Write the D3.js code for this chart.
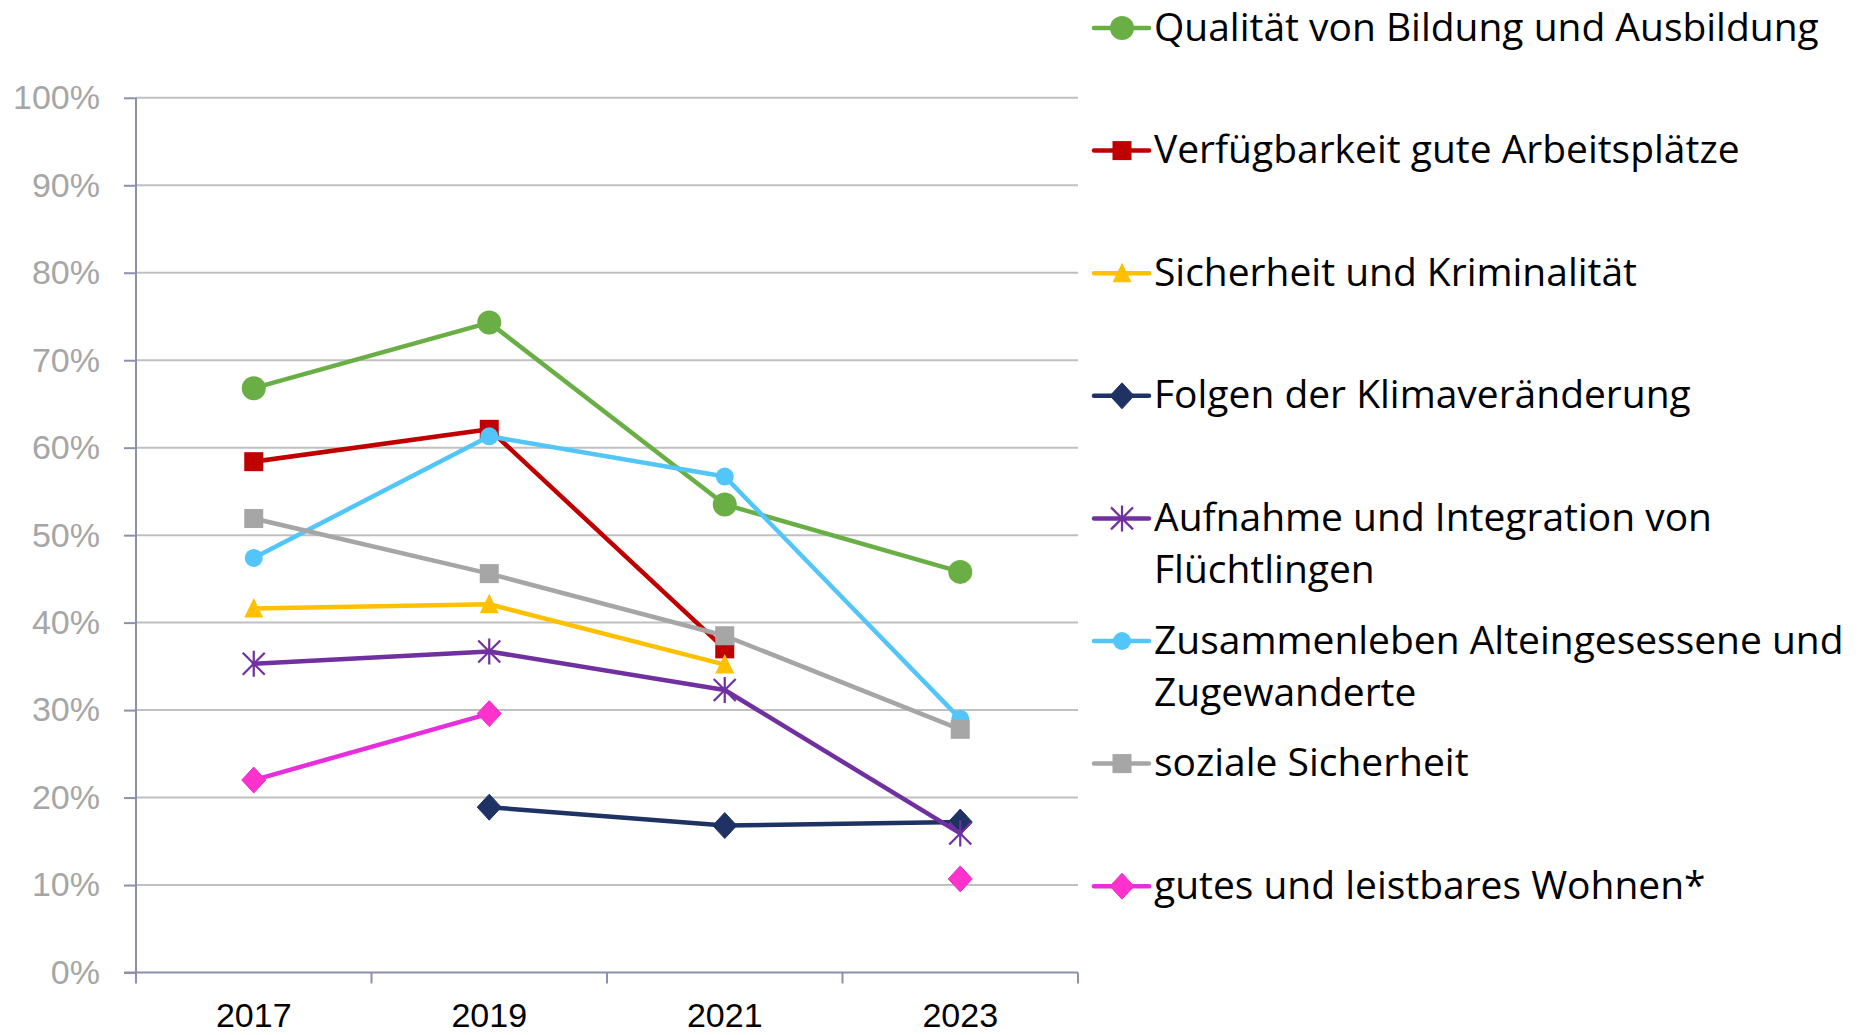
<!DOCTYPE html>
<html>
<head>
<meta charset="utf-8">
<script src="https://cdn.jsdelivr.net/npm/d3@7"></script>
<style>
  html, body { margin: 0; padding: 0; background: #ffffff; }
  svg { display: block; }
</style>
</head>
<body>
<svg id="chart" width="1862" height="1035"></svg>
<script>
// ---------- DATA ----------
const years = ["2017", "2019", "2021", "2023"];
const yTicks = [0, 0.1, 0.2, 0.3, 0.4, 0.5, 0.6, 0.7, 0.8, 0.9, 1.0];

const seriesNames = [
  "Qualität von Bildung und Ausbildung",
  "Verfügbarkeit gute Arbeitsplätze",
  "Sicherheit und Kriminalität",
  "Folgen der Klimaveränderung",
  "Aufnahme und Integration von|Flüchtlingen",
  "Zusammenleben Alteingesessene und|Zugewanderte",
  "soziale Sicherheit",
  "gutes und leistbares Wohnen*"
];

const bildung       = [0.668, 0.743, 0.535, 0.458];
const arbeit        = [0.584, 0.621, 0.370, null];
const sicherheit    = [0.416, 0.421, 0.352, null];
const klima         = [null, 0.189, 0.168, 0.172];
const fluechtlinge  = [0.353, 0.367, 0.323, 0.159];
const zusammenleben = [0.474, 0.613, 0.567, 0.290];
const sozial        = [0.519, 0.456, 0.385, 0.278];
const wohnen        = [0.220, 0.296, null, 0.107];

const seriesValues = [bildung, arbeit, sicherheit, klima, fluechtlinge, zusammenleben, sozial, wohnen];
const seriesColors = ["#6aaf45", "#c00000", "#ffc000", "#1f3264", "#7030a0", "#52c5f9", "#a6a6a6", "#e62edc"];
const markerFills  = ["#6aaf45", "#c00000", "#ffc000", "#1f3264", "#7030a0", "#52c5f9", "#a6a6a6", "#ff33cc"];
const markerTypes  = ["circle", "square", "triangle", "diamond", "star", "smallcircle", "square", "diamond"];

(function () {
// ---------- LAYOUT ----------
const svg = d3.select("#chart");
const plotLeft = 136, plotRight = 1078, plotTop = 97.8, plotBottom = 972.5;

const x = d3.scaleBand().domain(years).range([plotLeft, plotRight]).padding(0);
const y = d3.scaleLinear().domain([0, 1]).range([plotBottom, plotTop]);
const cx = d => x(d) + x.bandwidth() / 2;

const axisColor = "#8e8fab";
const gridColor = "#c0c0c0";

// gridlines
svg.append("g").selectAll("line")
  .data(yTicks.filter(t => t > 0))
  .join("line")
  .attr("x1", plotLeft).attr("x2", plotRight)
  .attr("y1", d => y(d)).attr("y2", d => y(d))
  .attr("stroke", gridColor).attr("stroke-width", 2);

// y axis
const yAxis = d3.axisLeft(y).tickValues(yTicks).tickSize(12).tickSizeOuter(0)
  .tickFormat(d3.format(".0%")).tickPadding(24);
const gy = svg.append("g").attr("transform", `translate(${plotLeft},0)`).call(yAxis);
gy.select(".domain").remove();
gy.selectAll(".tick line").attr("stroke", axisColor).attr("stroke-width", 2);
gy.selectAll(".tick text")
  .attr("fill", "#a6a6a6")
  .style("font-family", "'Liberation Sans', Arial, sans-serif")
  .style("font-size", "34px");
svg.append("line")
  .attr("x1", plotLeft).attr("x2", plotLeft).attr("y1", y(1)).attr("y2", plotBottom + 11)
  .attr("stroke", axisColor).attr("stroke-width", 2);

// x axis
svg.append("line")
  .attr("x1", plotLeft - 12).attr("x2", plotRight).attr("y1", plotBottom).attr("y2", plotBottom)
  .attr("stroke", axisColor).attr("stroke-width", 2);
const boundaries = years.map(d => x(d)).concat([x.range()[1]]);
svg.append("g").selectAll("line")
  .data(boundaries.slice(1))
  .join("line")
  .attr("x1", d => d).attr("x2", d => d)
  .attr("y1", plotBottom).attr("y2", plotBottom + 11)
  .attr("stroke", axisColor).attr("stroke-width", 2);

const xAxis = d3.axisBottom(x).tickSize(0).tickPadding(30);
const gx = svg.append("g").attr("transform", `translate(0,${plotBottom})`).call(xAxis);
gx.select(".domain").remove();
gx.selectAll(".tick text")
  .attr("fill", "#000000")
  .style("font-family", "'Liberation Sans', Arial, sans-serif")
  .style("font-size", "34px");

// ---------- MARKERS ----------
function drawMarker(g, type, fill, stroke) {
  if (type === "circle") {
    g.append("circle").attr("r", 12).attr("fill", fill);
  } else if (type === "smallcircle") {
    g.append("circle").attr("r", 9).attr("fill", fill);
  } else if (type === "square") {
    g.append("rect").attr("x", -9.5).attr("y", -9.5).attr("width", 19).attr("height", 19).attr("fill", fill);
  } else if (type === "triangle") {
    g.append("path").attr("d", "M0,-10.5 L9.5,9 L-9.5,9 Z").attr("fill", fill);
  } else if (type === "diamond") {
    g.append("path").attr("d", "M0,-13 L12,0 L0,13 L-12,0 Z")
      .attr("fill", fill).attr("stroke", stroke).attr("stroke-width", 1);
  } else if (type === "star") {
    g.append("path")
      .attr("d", "M0,-13 L0,13 M-11,-11 L11,11 M-11,11 L11,-11")
      .attr("stroke", fill).attr("stroke-width", 2.2).attr("fill", "none");
  }
}

// ---------- LINES ----------
const line = d3.line()
  .defined(d => d.v !== null)
  .x(d => cx(d.year))
  .y(d => y(d.v));

seriesValues.forEach((vals, i) => {
  const pts = years.map((yr, j) => ({ year: yr, v: vals[j] }));
  const g = svg.append("g");
  g.append("path")
    .attr("d", line(pts))
    .attr("fill", "none")
    .attr("stroke", seriesColors[i])
    .attr("stroke-width", 4.5)
    .attr("stroke-linejoin", "round")
    .attr("stroke-linecap", "round");
  pts.filter(p => p.v !== null).forEach(p => {
    const mg = g.append("g").attr("transform", `translate(${cx(p.year)},${y(p.v)})`);
    drawMarker(mg, markerTypes[i], markerFills[i], seriesColors[i]);
  });
});

// ---------- LEGEND ----------
const legendX1 = 1094, legendX2 = 1149, legendMarkerX = 1122, legendTextX = 1154;
const legendY0 = 28, legendStep = 122.6;
const legendFont = "'Open Sans', 'Noto Sans', sans-serif";

const probe = svg.append("text").style("font-family", legendFont).style("font-size", "40px")
  .text(seriesNames[0]);
const probeW = probe.node().getComputedTextLength();
probe.remove();
const legendFontSize = Math.min(40, 40 * 665 / probeW);

seriesNames.forEach((name, i) => {
  const ly = legendY0 + i * legendStep;
  const g = svg.append("g");
  g.append("line")
    .attr("x1", legendX1).attr("x2", legendX2).attr("y1", ly).attr("y2", ly)
    .attr("stroke", seriesColors[i]).attr("stroke-width", 4.5).attr("stroke-linecap", "round");
  const mg = g.append("g").attr("transform", `translate(${legendMarkerX},${ly})`);
  drawMarker(mg, markerTypes[i], markerFills[i], seriesColors[i]);
  const lines = name.split("|");
  const t = g.append("text")
    .attr("x", legendTextX).attr("y", ly + 12.5)
    .attr("fill", "#000000")
    .style("font-family", legendFont)
    .style("font-size", legendFontSize + "px");
  lines.forEach((ln, k) => {
    t.append("tspan").attr("x", legendTextX).attr("dy", k === 0 ? 0 : 52).text(ln);
  });
});
})();
</script>
</body>
</html>
